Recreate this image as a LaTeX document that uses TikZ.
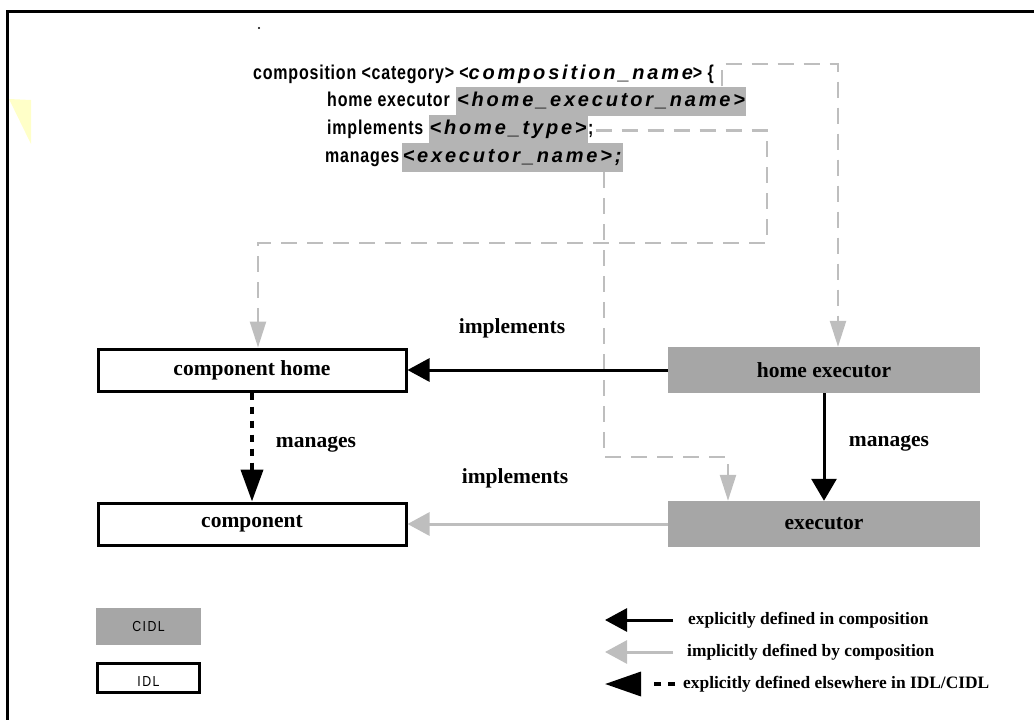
\documentclass[tikz,border=0pt]{standalone}
\usepackage{fontspec}
\setmainfont{Liberation Serif}
\newfontfamily\coderm[FakeStretch=0.8,LetterSpace=4]{Liberation Sans}
\newfontfamily\codeit[LetterSpace=14]{Liberation Sans}
\newfontfamily\keyfont[FakeStretch=0.85,LetterSpace=10]{Liberation Sans}
\newcommand\cit[1]{{\codeit\itshape #1}}
\usetikzlibrary{arrows.meta}
\definecolor{cidlgray}{HTML}{A6A6A6}
\definecolor{hlgray}{HTML}{B4B4B4}
\definecolor{implgray}{HTML}{BEBEBE}
\definecolor{notey}{HTML}{FFFFC8}
\begin{document}
\begin{tikzpicture}[x=1pt,y=-1pt,
  lblfont/.style={font=\fontsize{21.5}{24}\selectfont\bfseries},
  idl/.style={draw=black, line width=3pt, fill=white, minimum width=308pt,
    minimum height=42pt, inner sep=0pt, lblfont},
  cidl/.style={fill=cidlgray, minimum width=312pt, minimum height=46pt,
    inner sep=0pt, lblfont},
  code/.style={font=\coderm\fontsize{20}{24}\selectfont\bfseries, inner sep=0pt,
    anchor=base west},
  hl/.style={code, fill=hlgray, text height=15.5pt, text depth=6pt,
    inner ysep=4pt, inner xsep=1pt,
    font=\codeit\fontsize{20}{24}\selectfont\bfseries\itshape},
  lbl/.style={lblfont, inner sep=0pt},
  leg/.style={font=\fontsize{17.4}{19}\selectfont\bfseries, inner sep=0pt, anchor=west},
  keybox/.style={font=\keyfont\fontsize{14.5}{16}\selectfont, inner sep=0pt},
  explicit/.style={line width=3pt, -{Triangle[length=22pt,width=23pt]}},
  implicit/.style={line width=3pt, draw=implgray, -{Triangle[length=22pt,width=23pt]}},
  elsewhere/.style={line width=4pt, dash pattern=on 7pt off 7pt,
    -{Triangle[length=32pt,width=22pt]}},
  ref/.style={line width=2.5pt, draw=implgray, dash pattern=on 16pt off 10pt,
    -{Triangle[length=26pt,width=16pt]}}
]
\useasboundingbox (0,0) rectangle (1034,720);

% open frame along the top and left
\draw[line width=3pt] (7,720) -- (7,11) -- (1034,11);
\fill (259,28) circle (1.2pt);
\fill[notey] (9,99) -- (31,100) -- (31,144) -- cycle;

% composition declaration
\node[code] (c1) at (253,79) {composition <category> <\cit{composition\_name}> \{};
\node[code] (c2) at (327,106) {home executor};
\node[hl] (hl2) at ([xshift=6pt]c2.base east) {<home\_executor\_name>};
\node[code] (c3) at (327,134) {implements};
\node[hl] (hl3) at ([xshift=5pt]c3.base east) {<home\_type>};
\node[code] (s3) at (hl3.base east) {;};
\node[code] (c4) at (325,162) {manages};
\node[hl] (hl4) at ([xshift=2pt]c4.base east) {<executor\_name>;};

% main boxes
\node[idl] (chome) at (252,370) {component home};
\node[idl] (comp) at (252,524) {component};
\node[cidl] (hexec) at (824,370) {home executor};
\node[cidl] (exec) at (824,524) {executor};

% routing points of the dashed references
\coordinate (tA) at (722,64);
\coordinate (tB) at (838,64);
\coordinate (mB) at (767,243);
\coordinate (mC) at (258,243);
\coordinate (eA) at (604,457);
\coordinate (eB) at (728,457);

\draw[ref] (hl2.north -| tA) -- (tA) -- (tB) -- (tB |- hexec.north);
\draw[ref] ([xshift=2pt]s3.east) -| (mB) -- (mC) -- (mC |- chome.north);
\draw[ref] (hl4.south -| eA) -- (eA) -- (eB) -- (eB |- exec.north);

% relations
\draw[explicit] (hexec.west) -- (chome.east);
\draw[implicit] (exec.west) -- (comp.east);
\draw[explicit, -{Triangle[length=22pt,width=25pt]}] (hexec.south) -- (exec.north);
\draw[elsewhere] (chome.south) -- (comp.north);

\node[lbl] (impl1) at (512,328) {implements};
\node[lbl] (impl2) at (515,478) {implements};
\node[lbl] (man1) at (316,444) {manages};
\node[lbl] (man2) at (889,443) {manages};

% key
\node[fill=cidlgray, minimum width=105pt, minimum height=37pt, keybox] (kc) at (148.5,626.5) {CIDL};
\node[draw=black, line width=3pt, minimum width=102pt, minimum height=29pt,
  keybox, text height=11pt, text depth=0pt, inner ysep=0pt] (ki) at (148.5,678) {\raisebox{-3pt}{IDL}};

\node[leg] (k1) at (688,620) {explicitly defined in composition};
\node[leg] (k2) at (687,652) {implicitly defined by composition};
\node[leg] (k3) at (683,684) {explicitly defined elsewhere in IDL/CIDL};
\coordinate (a1) at (673,620); \coordinate (b1) at (605,620);
\coordinate (a2) at (673,652); \coordinate (b2) at (605,652);
\coordinate (a3) at (675,684); \coordinate (b3) at (605,684);
\draw[explicit] (a1) -- (b1);
\draw[implicit] (a2) -- (b2);
\draw[line width=3.5pt, dash pattern=on 7pt off 7pt on 7pt off 40pt,
  -{Triangle[length=36pt,width=24pt]}] (a3) -- (b3);
\end{tikzpicture}
\end{document}
